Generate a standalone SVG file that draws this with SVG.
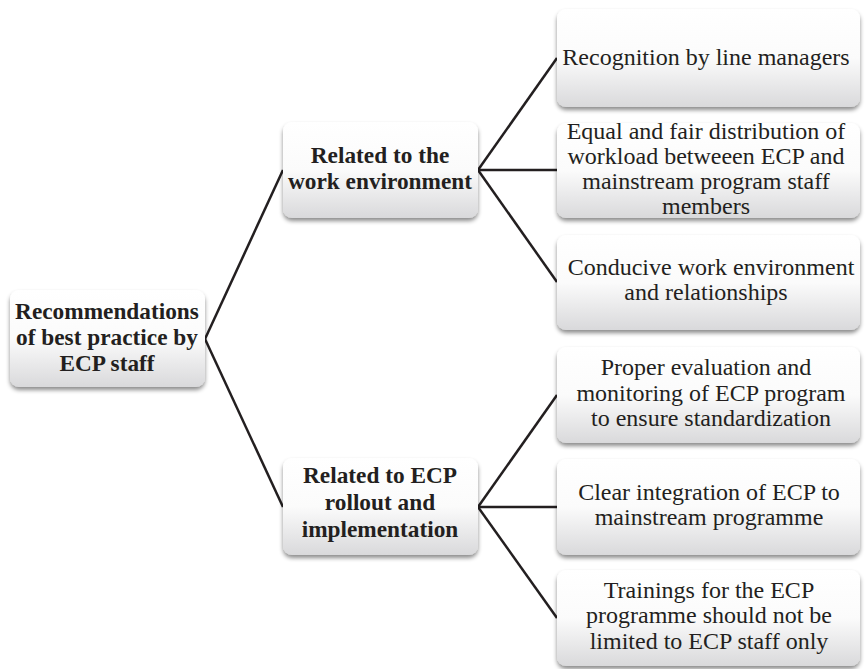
<svg xmlns="http://www.w3.org/2000/svg" width="865" height="669" viewBox="0 0 865 669">
<defs>
<linearGradient id="g" x1="0" y1="0" x2="0" y2="1">
<stop offset="0" stop-color="#ffffff"/>
<stop offset="0.5" stop-color="#fbfbfb"/>
<stop offset="1" stop-color="#d9d9db"/>
</linearGradient>
<filter id="sh" x="-10%" y="-10%" width="120%" height="130%">
<feDropShadow dx="0" dy="3" stdDeviation="2" flood-color="#000" flood-opacity="0.45"/>
</filter>
</defs>
<style>
.box{fill:url(#g);filter:url(#sh);}
.t{font-family:"Liberation Serif","Times New Roman",serif;font-size:24px;fill:#231f20;text-anchor:middle;}
.b{font-weight:bold;font-size:23.3px;}
.c{stroke:#231f20;stroke-width:2.5;fill:none;}
</style>
<rect width="865" height="669" fill="#ffffff"/>
<g id="connectors">
<line class="c" x1="205" y1="339" x2="283" y2="170"/>
<line class="c" x1="205" y1="339" x2="283" y2="507"/>
<line class="c" x1="478" y1="170" x2="557" y2="58"/>
<line class="c" x1="478" y1="170" x2="557" y2="170"/>
<line class="c" x1="478" y1="170" x2="557" y2="282"/>
<line class="c" x1="478" y1="507" x2="557" y2="395"/>
<line class="c" x1="478" y1="507" x2="557" y2="507"/>
<line class="c" x1="478" y1="507" x2="557" y2="618"/>
</g>
<g id="root">
<rect class="box" x="10" y="290" width="195" height="97" rx="9"/>
<text class="t b" x="107" y="319">Recommendations</text>
<text class="t b" x="107" y="345">of best practice by</text>
<text class="t b" x="107" y="371">ECP staff</text>
</g>
<g id="work">
<rect class="box" x="283" y="122" width="195" height="96" rx="9"/>
<text class="t b" x="380" y="163">Related to the</text>
<text class="t b" x="380" y="189">work environment</text>
</g>
<g id="rollout">
<rect class="box" x="283" y="458" width="195" height="97" rx="9"/>
<text class="t b" x="380" y="483">Related to ECP</text>
<text class="t b" x="380" y="510">rollout and</text>
<text class="t b" x="380" y="537">implementation</text>
</g>
<g id="leaf1">
<rect class="box" x="557" y="9" width="303" height="98" rx="9"/>
<text class="t" x="706" y="65">Recognition by line managers</text>
</g>
<g id="leaf2">
<rect class="box" x="557" y="123" width="303" height="95" rx="9"/>
<text class="t" x="706" y="139">Equal and fair distribution of</text>
<text class="t" x="706" y="164">workload betweeen ECP and</text>
<text class="t" x="706" y="189">mainstream program staff</text>
<text class="t" x="706" y="214">members</text>
</g>
<g id="leaf3">
<rect class="box" x="557" y="235" width="303" height="95" rx="9"/>
<text class="t" x="711" y="275">Conducive work environment</text>
<text class="t" x="706" y="300">and relationships</text>
</g>
<g id="leaf4">
<rect class="box" x="557" y="347" width="303" height="96" rx="9"/>
<text class="t" x="706" y="375">Proper evaluation  and</text>
<text class="t" x="711" y="401">monitoring of ECP program</text>
<text class="t" x="711" y="426">to ensure standardization</text>
</g>
<g id="leaf5">
<rect class="box" x="557" y="459" width="303" height="96" rx="9"/>
<text class="t" x="709" y="500">Clear integration of ECP to</text>
<text class="t" x="709" y="525">mainstream programme</text>
</g>
<g id="leaf6">
<rect class="box" x="557" y="570" width="303" height="96" rx="9"/>
<text class="t" x="709" y="598">Trainings for the ECP</text>
<text class="t" x="709" y="623">programme should not be</text>
<text class="t" x="709" y="649">limited to ECP staff only</text>
</g>
</svg>
